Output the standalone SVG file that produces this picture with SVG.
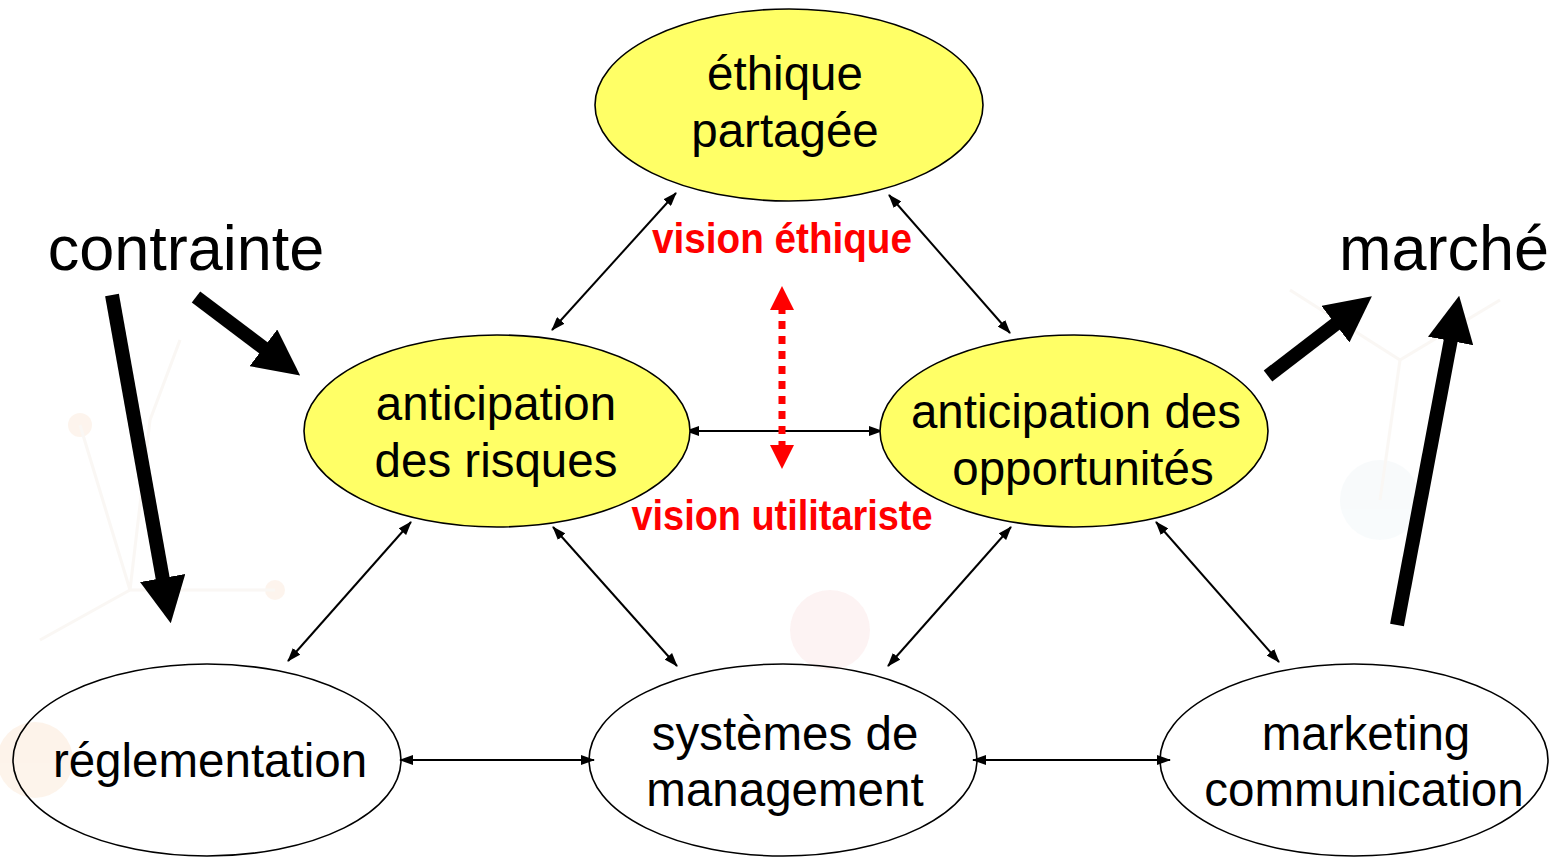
<svg xmlns="http://www.w3.org/2000/svg" width="1550" height="857" viewBox="0 0 1550 857">
<style>
.node{stroke:#000;stroke-width:1.6}
.yel{fill:#ffff66}
.wht{fill:none}
.t{font-family:"Liberation Sans",Arial,sans-serif;font-size:47.5px;fill:#000;text-anchor:middle}
.big{font-family:"Liberation Sans",Arial,sans-serif;font-size:63px;fill:#000;text-anchor:middle}
.red{font-family:"Liberation Sans",Arial,sans-serif;font-size:42px;font-weight:bold;fill:#ff0000;text-anchor:middle}
.thin{stroke:#000;stroke-width:2;fill:none;marker-start:url(#ah);marker-end:url(#ah)}
.thick{stroke:#000;stroke-width:14;fill:none;marker-end:url(#bh)}
.bg{fill:none;stroke:#f3ece4;stroke-width:3}
</style>
<defs>
<marker id="ah" viewBox="0 0 14 10" refX="13" refY="5" markerWidth="14" markerHeight="10" markerUnits="userSpaceOnUse" orient="auto-start-reverse">
<path d="M0,0 L14,5 L0,10 z" fill="#000"/>
</marker>
<marker id="bh" viewBox="0 0 46 46" refX="2" refY="23" markerWidth="46" markerHeight="46" markerUnits="userSpaceOnUse" orient="auto">
<path d="M0,0 L46,23 L0,46 z" fill="#000"/>
</marker>
<marker id="rh" viewBox="0 0 24 24" refX="4" refY="12" markerWidth="24" markerHeight="24" markerUnits="userSpaceOnUse" orient="auto-start-reverse">
<path d="M0,0 L24,12 L0,24 z" fill="#ff0000"/>
</marker>
</defs>
<rect width="1550" height="857" fill="#ffffff"/>
<g id="background" opacity="0.4">
<circle cx="35" cy="760" r="38" fill="#fbe3cc"/>
<circle cx="80" cy="425" r="12" fill="#fbe6d4"/>
<circle cx="275" cy="590" r="10" fill="#fbe6d4"/>
<circle cx="830" cy="630" r="40" fill="#fbe0e0"/>
<circle cx="1380" cy="500" r="40" fill="#eef5f7"/>
<path class="bg" d="M80,425 L130,590 L275,590 M130,590 L40,640 M130,590 L150,420 L180,340"/>
<path class="bg" d="M1290,290 L1400,360 L1500,300 M1400,360 L1380,500"/>
</g>
<g id="connectors">
<line class="thin" x1="552" y1="330" x2="676" y2="193"/>
<line class="thin" x1="1010" y1="333" x2="889" y2="195"/>
<line class="thin" x1="686" y1="431" x2="882" y2="431"/>
<line class="thin" x1="288" y1="661" x2="411" y2="522"/>
<line class="thin" x1="677" y1="666" x2="553" y2="527"/>
<line class="thin" x1="888" y1="666" x2="1011" y2="527"/>
<line class="thin" x1="1279" y1="662" x2="1156" y2="522"/>
<line class="thin" x1="400" y1="760" x2="594" y2="760"/>
<line class="thin" x1="973" y1="760" x2="1170" y2="760"/>
<line x1="782" y1="306" x2="782" y2="449" stroke="#ff0000" stroke-width="7" stroke-dasharray="8 7" marker-start="url(#rh)" marker-end="url(#rh)"/>
<line class="thick" x1="112" y1="295" x2="163" y2="580"/>
<line class="thick" x1="196" y1="297" x2="265" y2="349"/>
<line class="thick" x1="1268" y1="376" x2="1337" y2="323"/>
<line class="thick" x1="1397" y1="625" x2="1451" y2="339"/>
</g>
<g id="ethique">
<ellipse class="node yel" cx="789" cy="105" rx="194" ry="96"/>
<text class="t" x="785" y="90">éthique</text>
<text class="t" x="785" y="147">partagée</text>
</g>
<g id="risques">
<ellipse class="node yel" cx="497" cy="431" rx="193" ry="96"/>
<text class="t" x="496" y="420">anticipation</text>
<text class="t" x="496" y="477">des risques</text>
</g>
<g id="opportunites">
<ellipse class="node yel" cx="1074" cy="431" rx="194" ry="96"/>
<text class="t" x="1076" y="428">anticipation des</text>
<text class="t" x="1083" y="485">opportunités</text>
</g>
<g id="reglementation">
<ellipse class="node wht" cx="207" cy="760" rx="194" ry="96"/>
<text class="t" x="210" y="777">réglementation</text>
</g>
<g id="systemes">
<ellipse class="node wht" cx="783" cy="760" rx="194" ry="96"/>
<text class="t" x="785" y="750">systèmes de</text>
<text class="t" x="785" y="806">management</text>
</g>
<g id="marketing">
<ellipse class="node wht" cx="1354" cy="760" rx="194" ry="96"/>
<text class="t" x="1366" y="750">marketing</text>
<text class="t" x="1364" y="806">communication</text>
</g>
<g id="labels">
<text class="big" x="186" y="270">contrainte</text>
<text class="big" x="1444" y="270">marché</text>
<text class="red" x="782" y="253" textLength="260" lengthAdjust="spacingAndGlyphs">vision éthique</text>
<text class="red" x="782" y="530" textLength="301" lengthAdjust="spacingAndGlyphs">vision utilitariste</text>
</g>
</svg>
